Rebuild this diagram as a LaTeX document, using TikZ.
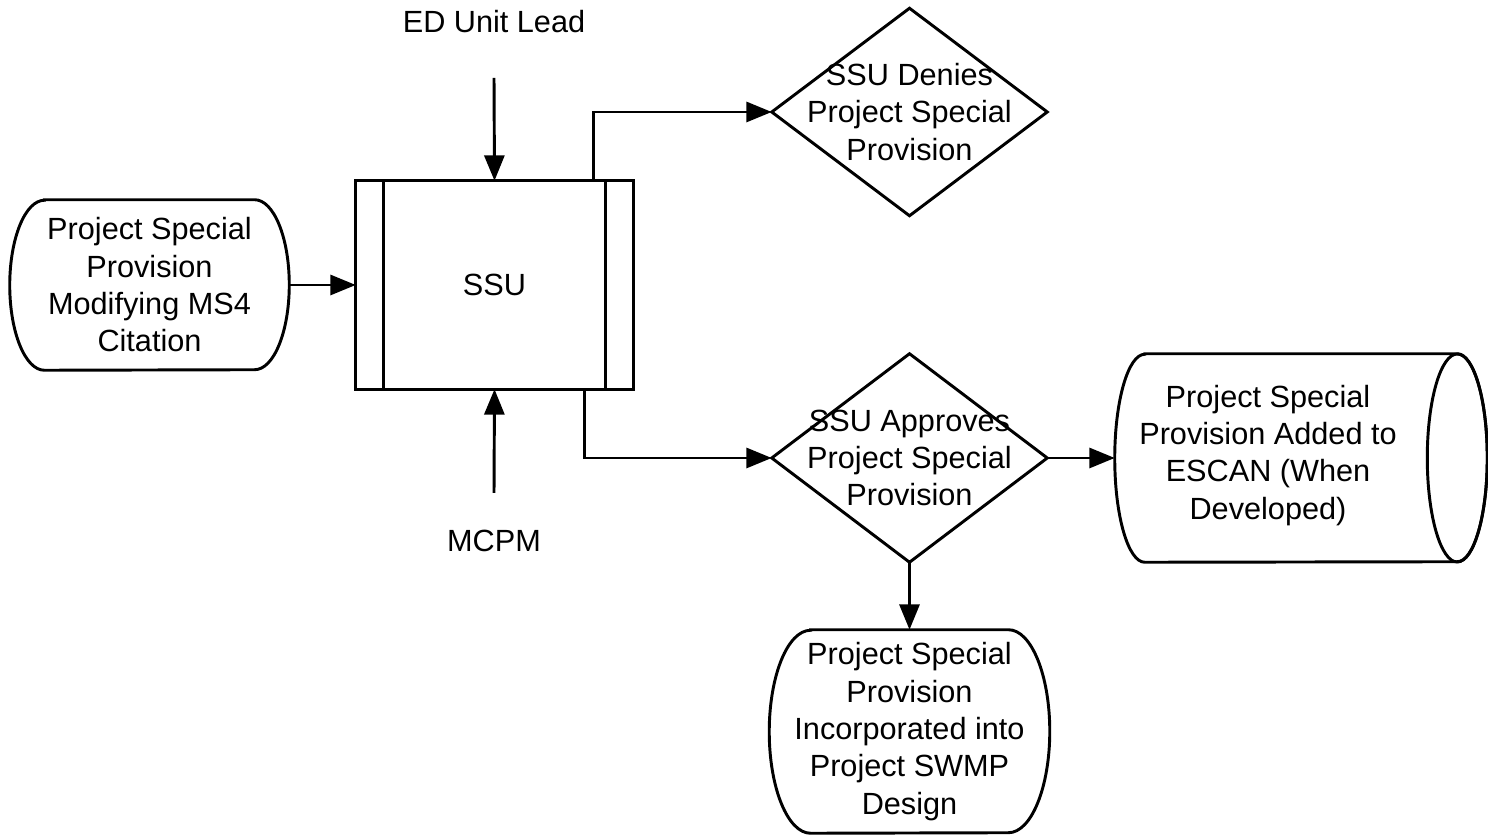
\documentclass[tikz,border=0pt]{standalone}
\usepackage{fontspec}
\setmainfont{Liberation Sans}
\usetikzlibrary{arrows.meta}
\begin{document}
\begin{tikzpicture}[x=0.75pt,y=0.75pt,
  every node/.style={font=\fontsize{23pt}{28pt}\selectfont, align=center, inner sep=0pt},
  shp/.style={line width=2.2pt, line join=miter},
  arr/.style={line width=2.2pt, -{Triangle[length=19pt,width=15pt]}}]
\useasboundingbox (0,0) rectangle (1488,837);
% left terminal
\node (t1) [minimum width=209.25pt, minimum height=127.5pt] at (149.5,552)
  {Project Special\\Provision\\Modifying MS4\\Citation};
\draw[shp] ([xshift=26pt]t1.north west) -- ([xshift=-26pt]t1.north east)
  arc[start angle=90,end angle=-90,x radius=26pt,y radius=63.75pt]
  -- ([xshift=26pt]t1.south west)
  arc[start angle=270,end angle=90,x radius=26pt,y radius=63.75pt] -- cycle;
% SSU box
\node (ssu) [minimum width=207.75pt, minimum height=156pt] at (494.5,552) {SSU};
\draw[shp] (ssu.north west) rectangle (ssu.south east);
\draw[shp] ([xshift=21pt]ssu.north west) -- ([xshift=21pt]ssu.south west);
\draw[shp] ([xshift=-21pt]ssu.north east) -- ([xshift=-21pt]ssu.south east);
% labels
\node (ed) at (494,815) {ED Unit Lead};
\coordinate (edin) at (494,759);
\node (mcpm) at (494,296) {MCPM};
\coordinate (mcin) at (494,344);
% denies diamond
\node (deny) [minimum width=206.25pt, minimum height=155.25pt] at (909.5,725)
  {SSU Denies\\Project Special\\Provision};
\draw[shp] (deny.west) -- (deny.north) -- (deny.east) -- (deny.south) -- cycle;
% approves diamond
\node (appr) [minimum width=206.25pt, minimum height=156pt] at (909.5,379)
  {SSU Approves\\Project Special\\Provision};
\draw[shp] (appr.west) -- (appr.north) -- (appr.east) -- (appr.south) -- cycle;
% cylinder
\node (cyl) [minimum width=279pt, minimum height=156pt] at (1301,379) {};
\draw[shp] ([xshift=22.5pt]cyl.north west) -- ([xshift=-22.5pt]cyl.north east)
  arc[start angle=90,end angle=-90,x radius=22.5pt,y radius=78pt]
  -- ([xshift=22.5pt]cyl.south west)
  arc[start angle=270,end angle=90,x radius=22.5pt,y radius=78pt] -- cycle;
\draw[shp] ([xshift=-22.5pt]cyl.east) ellipse [x radius=22.5pt, y radius=78pt];
\node (cyltxt) at ([xshift=-24.75pt,yshift=2pt]cyl.center)
  {Project Special\\Provision Added to\\ESCAN (When\\Developed)};
% bottom terminal
\node (bt) [minimum width=210pt, minimum height=152.25pt] at (909.5,105.5)
  {Project Special\\Provision\\Incorporated into\\Project SWMP\\Design};
\draw[shp] ([xshift=31pt]bt.north west) -- ([xshift=-31pt]bt.north east)
  arc[start angle=90,end angle=-90,x radius=31pt,y radius=76.125pt]
  -- ([xshift=31pt]bt.south west)
  arc[start angle=270,end angle=90,x radius=31pt,y radius=76.125pt] -- cycle;
% connectors
\draw[arr] (t1.east) -- (ssu.west);
\draw[arr] (edin) -- (ssu.north);
\draw[arr] (mcin) -- (ssu.south);
\draw[arr] ([xshift=74.5pt]ssu.north) |- (deny.west);
\draw[arr] ([xshift=67.5pt]ssu.south) |- (appr.west);
\draw[arr] (appr.east) -- (cyl.west);
\draw[arr] (appr.south) -- (bt.north);
\end{tikzpicture}
\end{document}
